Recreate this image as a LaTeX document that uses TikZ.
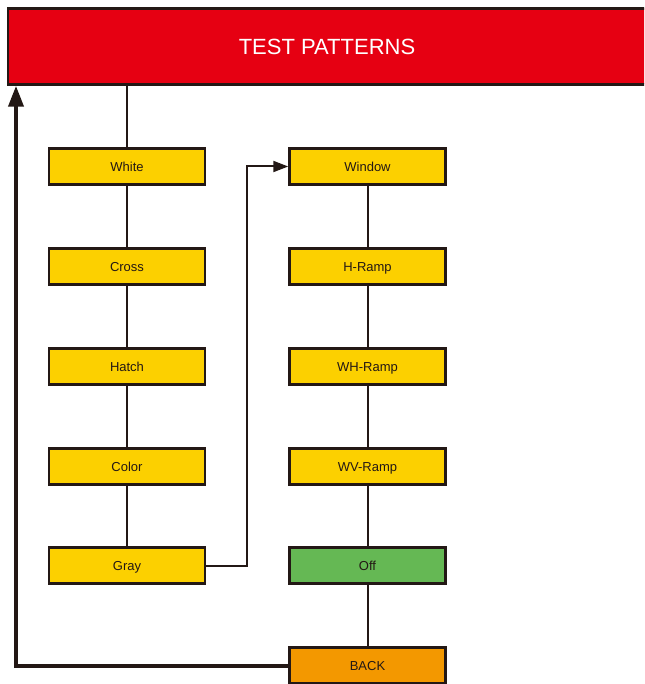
\documentclass[tikz,border=0pt]{standalone}
\usepackage{fontspec}
\setmainfont{Liberation Sans}
\usetikzlibrary{arrows.meta}
\definecolor{ink}{HTML}{231815}
\definecolor{hdr}{HTML}{E60012}
\definecolor{ylw}{HTML}{FCD000}
\definecolor{grn}{HTML}{65B854}
\definecolor{org}{HTML}{F39800}
\tikzset{
  pbox/.style={draw=ink, line width=2.5pt, fill=ylw, minimum width=156pt, minimum height=36pt, inner sep=0pt, text height=9.3pt, text depth=0pt, font=\fontsize{13}{13}\selectfont, text=ink},
  link/.style={draw=ink, line width=2pt},
}
\begin{document}
\begin{tikzpicture}[x=1pt,y=-1pt]
\useasboundingbox (0,0) rectangle (644,684);
\clip (0,0) rectangle (644,684);
\node[draw=ink, line width=2.5pt, fill=hdr, minimum width=638pt, minimum height=76pt, inner sep=0pt, text height=15.8pt, text depth=0pt, text=white, font=\fontsize{22}{22}\selectfont] (hdr) at (327,46.5) {TEST PATTERNS};
\node[pbox] (white) at (127,166.5) {White};
\node[pbox] (cross) at (127,266.5) {Cross};
\node[pbox] (hatch) at (127,366.5) {Hatch};
\node[pbox] (color) at (127,466.5) {Color};
\node[pbox] (gray) at (127,565.5) {Gray};
\node[pbox] (window) at (367.5,166.5) {Window};
\node[pbox] (hramp) at (367.5,266.5) {H-Ramp};
\node[pbox] (whramp) at (367.5,366.5) {WH-Ramp};
\node[pbox] (wvramp) at (367.5,466.5) {WV-Ramp};
\node[pbox, fill=grn] (off) at (367.5,565.5) {Off};
\node[pbox, fill=org] (back) at (367.5,665.5) {BACK};
\draw[link] (hdr.south -| white.north) -- (white.north);
\draw[link] (white) -- (cross);
\draw[link] (cross) -- (hatch);
\draw[link] (hatch) -- (color);
\draw[link] (color) -- (gray);
\draw[link] (window) -- (hramp);
\draw[link] (hramp) -- (whramp);
\draw[link] (whramp) -- (wvramp);
\draw[link] (wvramp) -- (off);
\draw[link] (off) -- (back);
\coordinate (gx) at (247,0);
\draw[link, -{Triangle[length=15pt,width=11pt]}] (gray.east) -- (gray.east -| gx) |- (window.west);
\coordinate (bx) at (16,0);
\draw[draw=ink, line width=4pt, -{Triangle[length=21pt,width=15pt]}] (back.west) -- (back.west -| bx) -- (hdr.south -| bx);
\end{tikzpicture}
\end{document}
